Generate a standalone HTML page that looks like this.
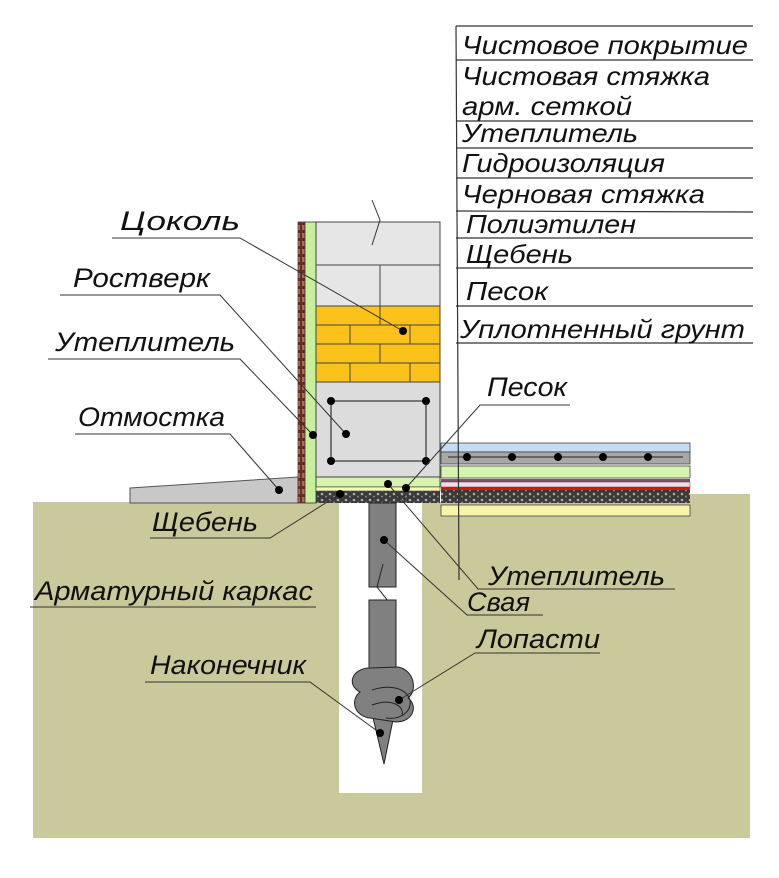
<!DOCTYPE html>
<html><head><meta charset="utf-8"><style>
body{margin:0;background:#fff;}
svg text{font-family:"Liberation Sans",sans-serif;font-style:italic;fill:#111;}
</style></head><body>
<svg width="779" height="873" viewBox="0 0 779 873" xmlns="http://www.w3.org/2000/svg">
<defs>
<pattern id="grav" width="8" height="6" patternUnits="userSpaceOnUse">
<rect width="8" height="6" fill="#3a3a3a"/><circle cx="2" cy="2" r="1.3" fill="#aaa"/><circle cx="6" cy="4.5" r="1" fill="#888"/>
</pattern>
<pattern id="brick" width="7" height="8" patternUnits="userSpaceOnUse">
<rect width="7" height="8" fill="#6b2c1e"/><rect x="1" y="1" width="5" height="5" fill="#b06a55"/>
</pattern>
</defs>
<rect x="33" y="502" width="717" height="336" fill="#c9c99b"/>
<rect x="690" y="494" width="60" height="10" fill="#c9c99b"/>
<rect x="339" y="502" width="83" height="291" fill="#fff"/>
<polygon points="130,488 298,477 298,503 130,503" fill="#c8c8c8" stroke="#555" stroke-width="1"/>
<rect x="298" y="222" width="7" height="281" fill="url(#brick)" stroke="#444" stroke-width="0.8"/>
<rect x="305" y="222" width="11" height="281" fill="#c6f09c" stroke="#333" stroke-width="0.8"/>
<rect x="316" y="222" width="124" height="84" fill="#e6e6e6" stroke="#444" stroke-width="1"/>
<line x1="316" y1="265" x2="440" y2="265" stroke="#444"/>
<line x1="380" y1="265" x2="380" y2="306" stroke="#444"/>
<polyline points="372,200 380,220 372,245" fill="none" stroke="#333"/>
<rect x="316" y="306" width="124" height="76" fill="#fcc21c" stroke="#444"/>
<g stroke="#444" stroke-width="1">
<line x1="316" y1="325" x2="440" y2="325"/><line x1="316" y1="344" x2="440" y2="344"/><line x1="316" y1="363" x2="440" y2="363"/>
<line x1="380" y1="306" x2="380" y2="325"/>
<line x1="350" y1="325" x2="350" y2="344"/><line x1="410" y1="325" x2="410" y2="344"/>
<line x1="380" y1="344" x2="380" y2="363"/>
<line x1="350" y1="363" x2="350" y2="382"/><line x1="410" y1="363" x2="410" y2="382"/>
</g>
<rect x="316" y="382" width="124" height="95" fill="#dcdcdc" stroke="#444"/>
<rect x="331" y="401" width="95" height="60" fill="none" stroke="#333" stroke-width="1.2"/>
<g fill="#000"><circle cx="331" cy="401" r="4"/><circle cx="426" cy="401" r="4"/><circle cx="331" cy="461" r="4"/><circle cx="426" cy="461" r="4"/></g>
<rect x="316" y="477" width="124" height="10" fill="#d6f4b0" stroke="#444"/>
<rect x="316" y="487" width="124" height="4" fill="#fafab0" stroke="#444" stroke-width="0.6"/>
<rect x="316" y="491" width="124" height="12" fill="url(#grav)"/>
<rect x="441" y="443" width="249" height="9" fill="#c4dcf4" stroke="#444" stroke-width="0.8"/>
<rect x="441" y="452" width="249" height="12" fill="#a8a8a8" stroke="#444" stroke-width="0.8"/>
<line x1="448" y1="457" x2="683" y2="457" stroke="#222"/>
<g fill="#000"><circle cx="467" cy="457" r="4"/><circle cx="512" cy="457" r="4"/><circle cx="558" cy="457" r="4"/><circle cx="603" cy="457" r="4"/><circle cx="648" cy="457" r="4"/></g>
<rect x="441" y="466" width="249" height="12" fill="#d4f4b0" stroke="#444" stroke-width="0.8"/>
<rect x="441" y="479" width="249" height="3" fill="#8a4a6a"/>
<rect x="441" y="482" width="249" height="5" fill="#ece0e6" stroke="#444" stroke-width="0.5"/>
<rect x="441" y="487" width="249" height="3" fill="#e01010"/>
<rect x="441" y="490" width="249" height="13" fill="url(#grav)"/>
<rect x="441" y="505" width="249" height="11" fill="#f8f4a8" stroke="#444" stroke-width="0.8"/>
<!-- pile -->
<rect x="369" y="503" width="27" height="84" fill="#808080" stroke="#222"/>
<polyline points="383,564 377,587 388,601 380,620" fill="none" stroke="#222"/>
<rect x="369" y="600" width="27" height="105" fill="#808080" stroke="#222"/>
<path d="M370,705 L396,705 L384,764 Z" fill="#808080" stroke="#222"/>
<path d="M370,668 C352,668 346,685 360,692 C350,700 354,716 370,718 L396,722 C414,722 418,705 408,698 C418,690 414,670 398,667 Z" fill="#808080" stroke="#222"/>
<path d="M372,690 C390,684 406,688 410,700 C412,712 400,720 386,718" fill="none" stroke="#222"/>
<path d="M372,705 C390,698 405,705 402,716" fill="none" stroke="#222"/>
<g stroke="#333" stroke-width="1.2">
<line x1="456" y1="26" x2="459" y2="580"/>
<line x1="456" y1="26" x2="753" y2="26"/><line x1="456" y1="60" x2="753" y2="60"/>
<line x1="456" y1="121" x2="753" y2="121"/><line x1="456" y1="148" x2="753" y2="148"/>
<line x1="456" y1="178" x2="753" y2="178"/><line x1="456" y1="211" x2="753" y2="212"/>
<line x1="456" y1="238" x2="753" y2="238"/><line x1="456" y1="268" x2="753" y2="268"/>
<line x1="456" y1="306" x2="753" y2="306"/><line x1="456" y1="343" x2="753" y2="343"/>
</g>
<g font-size="26" lengthAdjust="spacingAndGlyphs">
<text x="462" y="54" textLength="286" lengthAdjust="spacingAndGlyphs">Чистовое покрытие</text>
<text x="462" y="85" textLength="248" lengthAdjust="spacingAndGlyphs">Чистовая стяжка</text>
<text x="462" y="115" textLength="170" lengthAdjust="spacingAndGlyphs">арм. сеткой</text>
<text x="462" y="142" textLength="176" lengthAdjust="spacingAndGlyphs">Утеплитель</text>
<text x="462" y="172" textLength="203" lengthAdjust="spacingAndGlyphs">Гидроизоляция</text>
<text x="462" y="203" textLength="243" lengthAdjust="spacingAndGlyphs">Черновая стяжка</text>
<text x="466" y="233" textLength="170" lengthAdjust="spacingAndGlyphs">Полиэтилен</text>
<text x="466" y="263" textLength="107" lengthAdjust="spacingAndGlyphs">Щебень</text>
<text x="466" y="300" textLength="82" lengthAdjust="spacingAndGlyphs">Песок</text>
<text x="460" y="338" textLength="285" lengthAdjust="spacingAndGlyphs">Уплотненный грунт</text>
</g>
<g font-size="27">
<text x="120" y="230" textLength="120" lengthAdjust="spacingAndGlyphs">Цоколь</text>
<text x="73" y="287" textLength="137" lengthAdjust="spacingAndGlyphs">Ростверк</text>
<text x="55" y="351" textLength="180" lengthAdjust="spacingAndGlyphs">Утеплитель</text>
<text x="78" y="426" textLength="147" lengthAdjust="spacingAndGlyphs">Отмостка</text>
<text x="152" y="531" textLength="106" lengthAdjust="spacingAndGlyphs">Щебень</text>
<text x="35" y="600" textLength="278" lengthAdjust="spacingAndGlyphs">Арматурный каркас</text>
<text x="150" y="674" textLength="156" lengthAdjust="spacingAndGlyphs">Наконечник</text>
<text x="487" y="396" textLength="80" lengthAdjust="spacingAndGlyphs">Песок</text>
<text x="488" y="585" textLength="177" lengthAdjust="spacingAndGlyphs">Утеплитель</text>
<text x="467" y="611" textLength="63" lengthAdjust="spacingAndGlyphs">Свая</text>
<text x="477" y="648" textLength="123" lengthAdjust="spacingAndGlyphs">Лопасти</text>
</g>
<g stroke="#333" stroke-width="1" fill="none">
<polyline points="112,238 240,238 403,331"/>
<polyline points="60,295 220,295 346,434"/>
<polyline points="48,359 240,359 313,435"/>
<polyline points="75,434 230,434 279,490"/>
<polyline points="150,538 270,538 340,494"/>
<line x1="30" y1="607" x2="316" y2="607"/>
<polyline points="145,682 310,682 380,733"/>
<polyline points="570,405 480,405 406,488"/>
<polyline points="675,589 478,589 388,484"/>
<polyline points="543,615 467,615 384,540"/>
<polyline points="600,653 475,653 399,700"/>
</g>
<g fill="#000">
<circle cx="403" cy="331" r="4"/><circle cx="346" cy="434" r="4"/><circle cx="313" cy="435" r="4"/>
<circle cx="279" cy="490" r="4"/><circle cx="340" cy="494" r="4"/><circle cx="380" cy="733" r="4"/>
<circle cx="406" cy="488" r="4"/><circle cx="388" cy="484" r="4"/><circle cx="384" cy="540" r="4"/><circle cx="399" cy="700" r="4"/>
</g>
</svg>
</body></html>
